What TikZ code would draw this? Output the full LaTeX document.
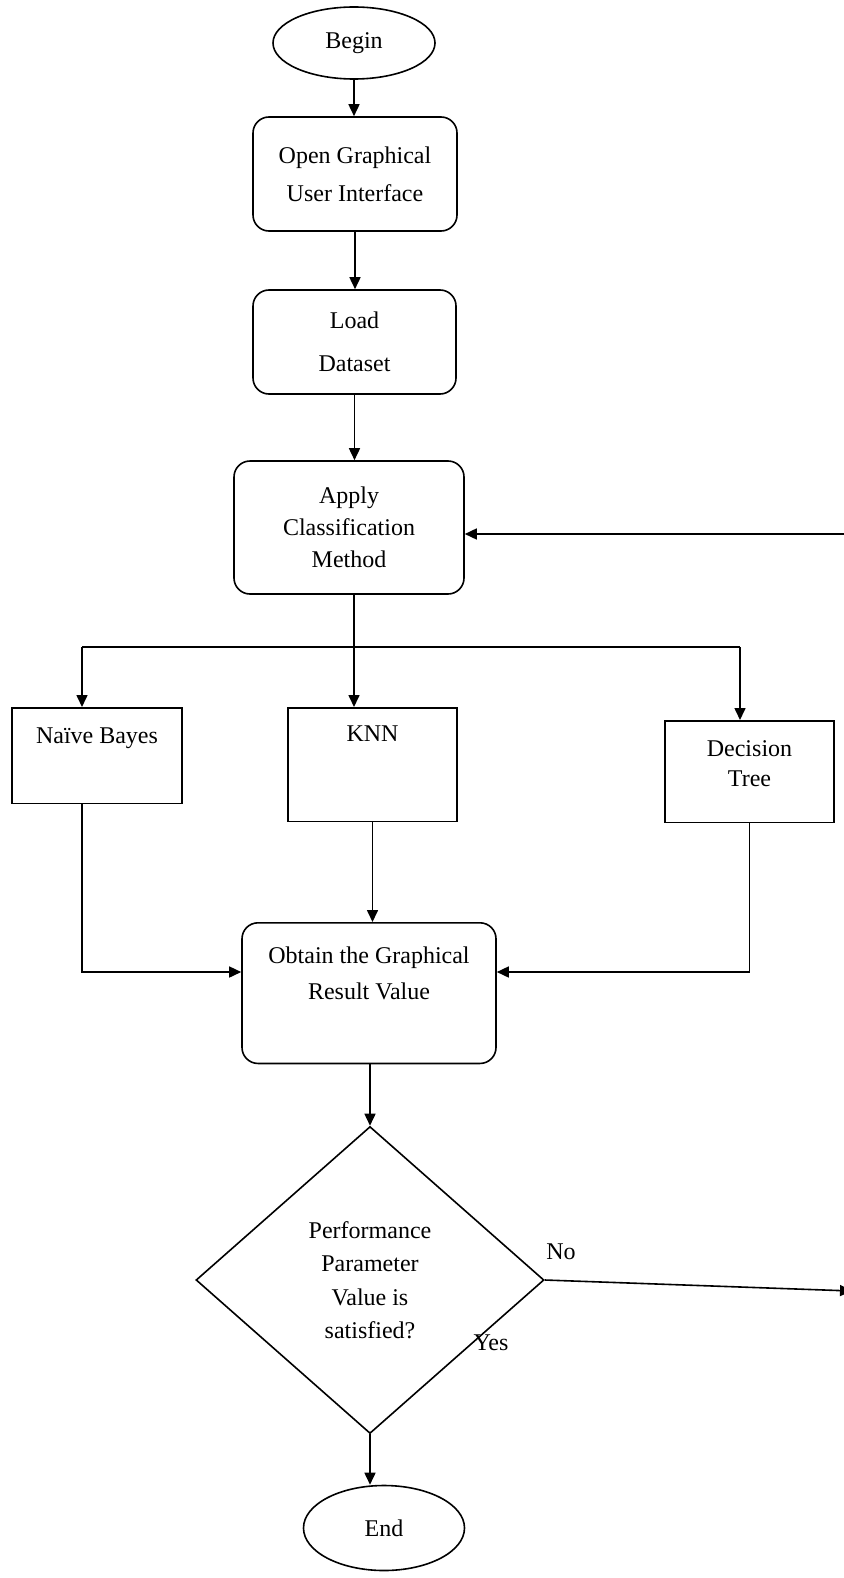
\documentclass[tikz,border=0pt]{standalone}
\usepackage{fontspec}
\setmainfont{Liberation Serif}
\usetikzlibrary{positioning}
\usetikzlibrary{shapes.geometric}
\usetikzlibrary{arrows.meta}

\tikzset{
  termnode/.style={draw, ellipse, inner sep=0pt},
  roundbox/.style={draw, rounded corners=8pt, align=center},
  plainbox/.style={draw, align=center, anchor=north},
  decidebox/.style={draw, diamond, inner sep=0pt, align=center}
}

\begin{document}
\begin{tikzpicture}[x=0.5pt, y=-0.5pt, line width=0.8pt,
                    font=\fontsize{12pt}{14pt}\selectfont]
\useasboundingbox (0,0) rectangle (844,1578);

\begin{scope}
  \node[termnode, minimum width=81pt, minimum height=36pt] (begin) at (354,43) {Begin};
  \node[roundbox, minimum width=102pt, minimum height=57pt] (gui) at (355,174) {Open Graphical\\[5pt]User Interface};
  \node[roundbox, minimum width=101.5pt, minimum height=52pt] (load) at (354.5,342) {Load\\[7.5pt]Dataset};
  \node[roundbox, minimum width=115pt, minimum height=66.5pt] (apply) at (349,527.5) {Apply\\[2pt]Classification\\[2pt]Method};

  \node[plainbox, minimum width=85pt, inner ysep=10pt, text depth=20pt] (naive) at (97,707) {Naïve Bayes};
  \node[plainbox, minimum width=84.5pt, inner ysep=9pt, text depth=31pt] (knn) at (372.5,707) {KNN};
  \node[plainbox, minimum width=84.5pt, inner ysep=10pt, text depth=8pt] (dtree) at (749.5,720) {Decision\\[1pt]Tree};

  \node[roundbox, anchor=north, minimum width=127pt, inner ysep=12pt, text depth=20pt] (obtain) at (369,922) {Obtain the Graphical\\[4pt]Result Value};
  \node[decidebox, minimum width=174pt, minimum height=153.5pt] (dia) at (370,1280) {Performance\\[2.75pt]Parameter\\[2.75pt]Value is\\[2.75pt]satisfied?};
  \node[termnode, minimum width=80.5pt, minimum height=42.5pt] (finish) at (384,1528) {End};

  \node (no) at (561,1252) {No};
  \node (yes) at (491,1343) {Yes};
\end{scope}

\begin{scope}
  \coordinate (split) at (354,647);
  \coordinate (nb) at (82,647);
  \coordinate (dt) at (740,647);
  \coordinate (mrg) at (82,972);
  \coordinate (noend) at (852,1291);
  \coordinate (back) at (850,534);
\end{scope}

\begin{scope}[>={Triangle[length=6pt, width=5.5pt]}]
  \draw[->] (begin.south) -- (begin.south |- gui.north);
  \draw[->] (gui.south) -- (gui.south |- load.north);
  \draw[->] (load.south) -- (load.south |- apply.north);
  \draw (split |- apply.south) -- (split);
  \draw (nb) -- (dt);
  \draw[->] (nb) -- (nb |- naive.north);
  \draw[->] (split) -- (split |- knn.north);
  \draw[->] (dt) -- (dt |- dtree.north);
  \draw[->] (nb |- naive.south) |- (obtain.west |- mrg);
  \draw[->] (knn.south) -- (knn.south |- obtain.north);
  \draw[->] (dtree.south) |- (obtain.east |- mrg);
  \draw[->] (dia.north |- obtain.south) -- (dia.north);
  \draw[->] (dia.east) -- (noend);
  \draw[->] (back) -- (apply.east |- back);
  \draw[->] (dia.south) -- (dia.south |- finish.north);
\end{scope}
\end{tikzpicture}
\end{document}
